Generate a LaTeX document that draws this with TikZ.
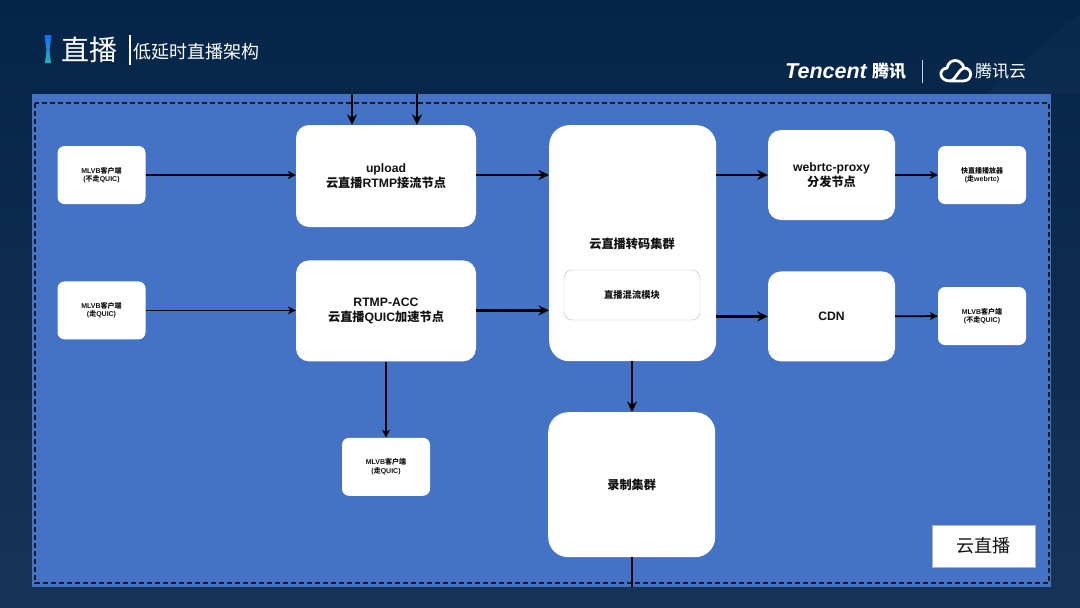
\documentclass[tikz,border=0pt]{standalone}
\usepackage{fontspec}
\setmainfont{Liberation Sans}
\newfontfamily\cjk{Noto Sans CJK SC}
\usetikzlibrary{arrows.meta,positioning,calc}
\definecolor{slideDark}{RGB}{4,36,72}
\definecolor{slideLow}{RGB}{22,52,88}
\definecolor{panelBlue}{RGB}{68,114,196}
\definecolor{inkBlack}{RGB}{18,18,18}
\definecolor{capBlue}{RGB}{20,110,240}
\definecolor{capTeal}{RGB}{30,180,190}
\newcommand{\zh}[1]{{\cjk #1}}
\tikzset{
  client node/.style={draw=none,fill=white,rounded corners=7pt,align=center,text=inkBlack,font=\bfseries\fontsize{7}{8.5}\selectfont,minimum width=88pt,minimum height=58pt,inner sep=0pt},
  relay node/.style={draw=none,fill=white,rounded corners=13pt,align=center,text=inkBlack,font=\bfseries\fontsize{12.2}{15}\selectfont,inner sep=0pt},
  thin arrow/.style={-{Stealth[length=8pt,width=8pt]},line width=1.8pt,draw=black},
  bold arrow/.style={-{Stealth[length=10.5pt,width=10pt]},line width=2.8pt,draw=black},
  head text/.style={text=white,inner sep=0pt,anchor=west}
}
\begin{document}
\begin{tikzpicture}[x=1pt,y=-1pt]
    \useasboundingbox (0,0) rectangle (1080,608);
    \shade[top color=slideDark,bottom color=slideLow] (0,0) rectangle (1080,608);
    \fill[white,opacity=0.025] (985,94) -- (1080,14) -- (1080,94) -- cycle;
    \fill[panelBlue] (32,94) rectangle (1051,587);
    \draw[black!90,line width=1.3pt,dash pattern=on 5pt off 3pt] (35,103) rectangle (1049,583);
    % heading
    \shade[top color=capBlue,bottom color=capTeal] (44.5,35) -- (51.5,35) -- (49.5,50) -- (51,63) -- (45,63) -- (46.5,50) -- cycle;
    \node[head text,font=\cjk\fontsize{28}{28}\selectfont] (title) at (61,50) {直播};
    \node[draw=none,fill=white,minimum width=1.6pt,minimum height=30pt,inner sep=0pt] (titlebar) at (130,50) {};
    \node[head text,font=\cjk\fontsize{18}{18}\selectfont] (subtitle) at (133,52) {低延时直播架构};
    \node[head text,font=\bfseries\itshape\fontsize{21.5}{21.5}\selectfont] (tencent) at (785,71) {Tencent};
    \node[head text,font=\cjk\bfseries\fontsize{17}{17}\selectfont,right=5pt of tencent] (tencentcn) {腾讯};
    \node[draw=none,fill=white!80!slideDark,minimum width=1pt,minimum height=23pt,inner sep=0pt] (logobar) at (922,71) {};
    \node[head text,font=\cjk\fontsize{17}{17}\selectfont] (cloudcn) at (975,71) {腾讯云};
    \draw[white,line width=2.8pt,line join=round,line cap=round] (950,81) -- (963,81) .. controls (973,81) and (973,68) .. (964,68) .. controls (961,58) and (949,58) .. (947,68) .. controls (938,69) and (939,81) .. (950,81) .. controls (955,81) and (958,70) .. (964,68);
    % left column
    \node[client node] (mlvbA) at (101.5,175) {MLVB\zh{客户端}\\(\zh{不走}QUIC)};
    \node[client node,below=77pt of mlvbA] (mlvbB) {MLVB\zh{客户端}\\(\zh{走}QUIC)};
    \node[relay node,minimum width=180pt,minimum height=102pt] (upload) at (386,176) {upload\\\zh{云直播}RTMP\zh{接流节点}};
    \node[relay node,minimum width=180pt,minimum height=101pt,below=33pt of upload] (rtmpacc) {RTMP-ACC\\\zh{云直播}QUIC\zh{加速节点}};
    \node[client node,below=76pt of rtmpacc] (mlvbC) {MLVB\zh{客户端}\\(\zh{走}QUIC)};
    % middle column
    \node[relay node,minimum width=167pt,minimum height=236pt,rounded corners=20pt,anchor=north west] (transcode) at (549,125) {};
    \node[text=inkBlack,font=\cjk\bfseries\fontsize{12.2}{14}\selectfont,inner sep=0pt] (transcodelabel) at (632,244) {云直播转码集群};
    \node[draw=black!25,fill=white,rounded corners=8pt,minimum width=136pt,minimum height=50pt,inner sep=0pt,text=inkBlack,font=\cjk\bfseries\fontsize{9.3}{10}\selectfont] (mixer) at (632,295) {直播混流模块};
    \node[relay node,minimum width=167pt,minimum height=145pt,rounded corners=20pt,font=\cjk\bfseries\fontsize{12.2}{14}\selectfont,anchor=north west] (record) at (548,412) {录制集群};
    % right column
    \node[relay node,minimum width=127pt,minimum height=90pt] (webrtc) at (831.5,175) {webrtc-proxy\\\zh{分发节点}};
    \node[relay node,minimum width=127pt,minimum height=90pt,below=51pt of webrtc] (cdn) {CDN};
    \node[client node] (player) at (982,175) {\zh{快直播播放器}\\(\zh{走}webrtc)};
    \node[client node] (mlvbD) at (982,316) {MLVB\zh{客户端}\\(\zh{不走}QUIC)};
    \node[draw=black!30,fill=white,minimum width=103pt,minimum height=42pt,inner sep=0pt,text=inkBlack,font=\cjk\fontsize{18}{18}\selectfont] (product) at (983.5,546) {云直播};
    % free ends
    \coordinate (inA) at (352,94);
    \coordinate (inB) at (417,94);
    \coordinate (outrec) at (632,587);
    \draw[bold arrow] (inA) -- (inA |- upload.north);
    \draw[bold arrow] (inB) -- (inB |- upload.north);
    \draw[thin arrow] (mlvbA) -- (mlvbA -| upload.west);
    \draw[thin arrow] (mlvbB) -- (mlvbB -| rtmpacc.west);
    \draw[thin arrow] (rtmpacc) -- (mlvbC);
    \draw[bold arrow] (mlvbA -| upload.east) -- (mlvbA -| transcode.west);
    \draw[bold arrow] (mlvbB -| rtmpacc.east) -- (mlvbB -| transcode.west);
    \draw[bold arrow] (cdn.west -| transcode.east) -- (cdn.west);
    \draw[bold arrow] (webrtc.west -| transcode.east) -- (webrtc.west);
    \draw[bold arrow] (outrec |- transcode.south) -- (outrec |- record.north);
    \draw[thin arrow] (webrtc) -- (player);
    \draw[thin arrow] (cdn) -- (mlvbD);
    \draw[line width=2.8pt,draw=black] (outrec |- record.south) -- (outrec);
  \end{tikzpicture}
\end{document}
